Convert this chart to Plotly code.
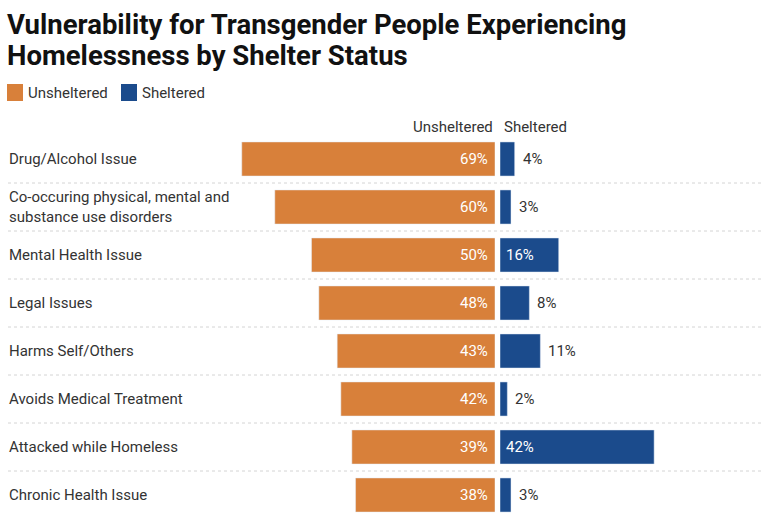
import plotly.graph_objects as go

categories = [
    "Drug/Alcohol Issue",
    "Co-occuring physical, mental and<br>substance use disorders",
    "Mental Health Issue",
    "Legal Issues",
    "Harms Self/Others",
    "Avoids Medical Treatment",
    "Attacked while Homeless",
    "Chronic Health Issue",
]
unsheltered = [69, 60, 50, 48, 43, 42, 39, 38]
sheltered = [4, 3, 16, 8, 11, 2, 42, 3]
series_names = ["Unsheltered", "Sheltered"]
title_lines = ["Vulnerability for Transgender People Experiencing",
               "Homelessness by Shelter Status"]

ORANGE = "#D8803A"
BLUE = "#1B4B8C"
TXT = "#333333"
FONT = "Roboto, Liberation Sans, sans-serif"
TITLE_FONT = "Roboto, Liberation Sans, sans-serif"
FS = 15

W, H = 768, 531
T, B = 135, 12
PX = 3.67  # pixels per percent
CX_L, CX_R = 495, 500

def py(p):
    return (H - B - p) / (H - T - B)

def px(p):
    return p / W

ys = list(range(len(categories)))

fig = go.Figure()
fig.add_trace(go.Bar(
    y=ys, x=unsheltered, orientation="h", marker_color=ORANGE, width=0.71,
    xaxis="x", yaxis="y", name=series_names[0], showlegend=False, hoverinfo="x",
))
fig.add_trace(go.Bar(
    y=ys, x=sheltered, orientation="h", marker_color=BLUE, width=0.71,
    xaxis="x2", yaxis="y", name=series_names[1], showlegend=False, hoverinfo="x",
))

ann = []
shapes = []
# category labels
for i, c in enumerate(categories):
    ann.append(dict(x=px(7), xref="paper", y=i, yref="y", text=c, showarrow=False,
                    xanchor="left", yanchor="middle", align="left",
                    font=dict(family=FONT, size=FS, color=TXT)))
# value labels
for i, v in enumerate(unsheltered):
    ann.append(dict(x=0, xref="x", y=i, yref="y", text=f"{v}%", showarrow=False,
                    xanchor="right", yanchor="middle", xshift=-5,
                    font=dict(family=FONT, size=FS, color="white")))
for i, v in enumerate(sheltered):
    inside = v >= 15
    ann.append(dict(x=0 if inside else v, xref="x2", y=i, yref="y", text=f"{v}%",
                    showarrow=False, xanchor="left", yanchor="middle",
                    xshift=4 if inside else 6,
                    font=dict(family=FONT, size=FS, color="white" if inside else TXT)))
# separators
for i in range(len(categories) - 1):
    shapes.append(dict(type="line", xref="paper", x0=px(8), x1=px(762), yref="y",
                       y0=i + 0.5, y1=i + 0.5,
                       line=dict(color="#d4d4d4", width=1, dash="dot")))
# column headers
ann.append(dict(x=px(495), xref="paper", y=py(127), yref="paper", text=series_names[0],
                showarrow=False, xanchor="right", yanchor="middle",
                font=dict(family=FONT, size=FS, color=TXT)))
ann.append(dict(x=px(502), xref="paper", y=py(127), yref="paper", text=series_names[1],
                showarrow=False, xanchor="left", yanchor="middle",
                font=dict(family=FONT, size=FS, color=TXT)))
# legend
for (x0, col, name) in [(7, ORANGE, series_names[0]), (121, BLUE, series_names[1])]:
    shapes.append(dict(type="rect", xref="paper", yref="paper", x0=px(x0), x1=px(x0 + 16),
                       y0=py(101), y1=py(84), fillcolor=col, line=dict(width=0)))
    ann.append(dict(x=px(x0 + 19), xref="paper", y=py(92.5), yref="paper", text=name,
                    showarrow=False, xanchor="left", yanchor="middle",
                    font=dict(family=FONT, size=FS, color=TXT)))
# title (two lines placed separately for tight line spacing)
for line, yc in zip(title_lines, [24, 55]):
    ann.append(dict(x=px(5), xref="paper", y=py(yc), yref="paper",
                    text=f"<b>{line}</b>",
                    showarrow=False, xanchor="left", yanchor="middle", align="left",
                    font=dict(family=TITLE_FONT, size=27.5, color="#111111")))

fig.update_layout(
    width=W, height=H,
    margin=dict(l=0, r=0, t=T, b=B, pad=0),
    paper_bgcolor="white", plot_bgcolor="white",
    showlegend=False,
    xaxis=dict(domain=[0, CX_L / W], range=[CX_L / PX, 0], visible=False, fixedrange=True),
    xaxis2=dict(domain=[CX_R / W, 1], range=[0, (W - CX_R) / PX], visible=False, fixedrange=True),
    yaxis=dict(range=[len(categories) - 0.5, -0.5], visible=False, fixedrange=True),
    annotations=ann, shapes=shapes,
)

fig.write_html("out.html", config={"displayModeBar": False},
               post_script="document.body.style.margin='0';")
